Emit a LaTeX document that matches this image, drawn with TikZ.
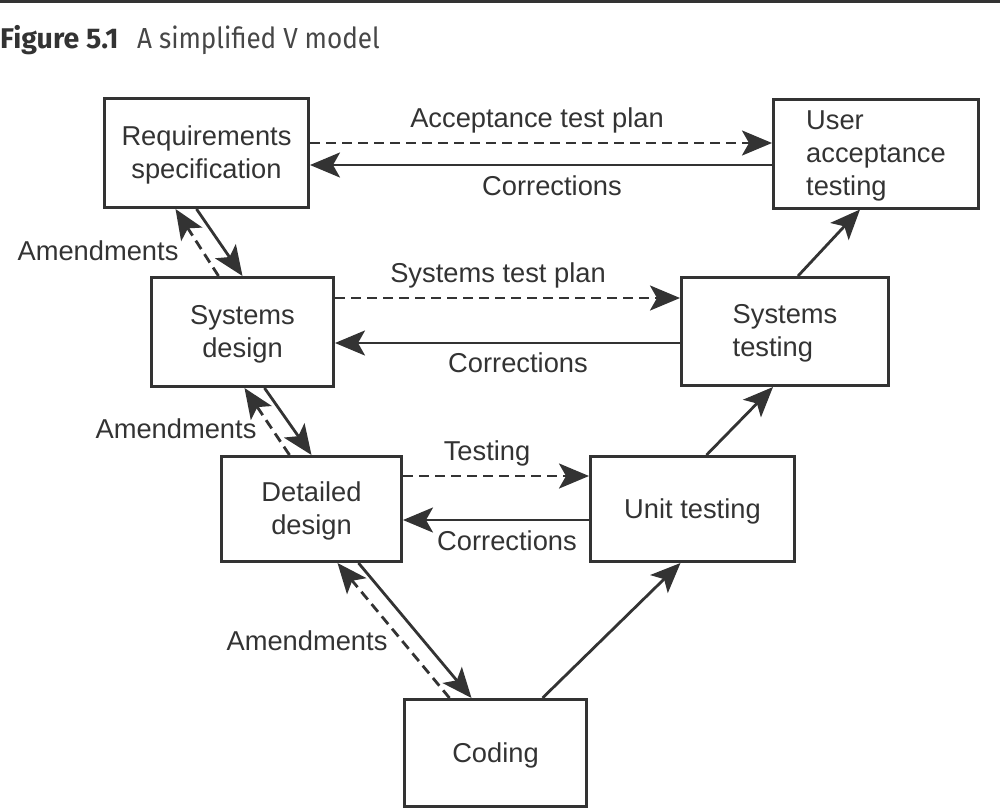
\documentclass[tikz,border=0pt]{standalone}
\usepackage{fontspec}
\setmainfont{Liberation Sans}
\newfontfamily\titlefont{Fira Sans}
\newfontfamily\titlefontn[FakeStretch=0.9]{Fira Sans}
\usetikzlibrary{arrows.meta,calc}
\definecolor{ink}{HTML}{333333}
\begin{document}
\begin{tikzpicture}[x=1pt,y=-1pt,
  box/.style={draw=ink,line width=3pt,rectangle,inner sep=0pt},
  txt/.style={text=ink,align=center,inner sep=0pt,font=\fontsize{27.3}{33}\selectfont},
  lbl/.style={text=ink,font=\fontsize{27.3}{33}\selectfont,inner sep=0pt},
  conn/.style={draw=ink,line width=2.8pt,-{Stealth[length=30pt,width=25pt,inset=7pt]}},
  dconn/.style={conn,dash pattern=on 10pt off 6pt}]
\useasboundingbox (0,0) rectangle (1000,811);
\fill[ink] (0,0) rectangle (1000,3);
\node[anchor=base west,inner sep=0pt,text=ink,font=\titlefont\bfseries\fontsize{28.5}{32}\selectfont] (fig) at (0,48) {Figure 5.1};
\node[anchor=base west,inner sep=0pt,text=ink!90,font=\titlefontn\fontsize{29}{32}\selectfont] (cap) at (137,48) {A simplified V model};

\node[box,minimum width=204pt,minimum height=109pt] (req) at (206.5,153) {};
\node[box,minimum width=205pt,minimum height=109pt] (uat) at (876,153.5) {};
\node[box,minimum width=182pt,minimum height=109pt] (sd) at (242.5,332) {};
\node[box,minimum width=207pt,minimum height=108pt] (st) at (785,331.5) {};
\node[box,minimum width=180pt,minimum height=105pt] (dd) at (311.5,509) {};
\node[box,minimum width=204pt,minimum height=105pt] (ut) at (692.5,509) {};
\node[box,minimum width=182pt,minimum height=107pt] (cod) at (495.5,753) {};

\node[txt] (reqt) at ($(req.center)+(0,2)$) {Requirements\\specification};
\node[txt,align=left] (uatt) at ($(uat.center)+(0,2)$) {User\\acceptance\\testing};
\node[txt] (sdt) at ($(sd.center)+(0,2)$) {Systems\\design};
\node[txt,align=left] (stt) at ($(st.center)+(0,2)$) {Systems\\testing};
\node[txt] (ddt) at ($(dd.center)+(0,2)$) {Detailed\\design};
\node[txt] (utt) at ($(ut.center)+(0,2)$) {Unit testing};
\node[txt] (codt) at ($(cod.center)+(0,2)$) {Coding};

% horizontal plans / corrections
\draw[dconn] ($(req.east)+(0,-10)$) -- ($(uat.west)+(0,-10.5)$);
\draw[conn] ($(uat.west)+(0,11.5)$) -- ($(req.east)+(0,12)$);
\node[lbl] (l1) at (537,120) {Acceptance test plan};
\node[lbl] (l2) at (552,186) {Corrections};

\draw[dconn] ($(sd.east)+(0,-34)$) -- ($(st.west)+(0,-33.5)$);
\draw[conn] ($(st.west)+(0,11.5)$) -- ($(sd.east)+(0,11)$);
\node[lbl] (l3) at (498,275) {Systems test plan};
\node[lbl] (l4) at (518,363) {Corrections};

\draw[dconn] ($(dd.east)+(0,-33)$) -- ($(ut.west)+(0,-33)$);
\draw[conn] ($(ut.west)+(0,11)$) -- ($(dd.east)+(0,11)$);
\node[lbl] (l5) at (487,453) {Testing};
\node[lbl] (l6) at (507,541) {Corrections};

% left leg
\draw[conn] ($(req.south)+(-10,0)$) -- ($(sd.north)+(0,0)$);
\draw[dconn] ($(sd.north)+(-24,0)$) -- ($(req.south)+(-31,0)$);
\node[lbl] (a1) at (98,251) {Amendments};

\draw[conn] ($(sd.south)+(22,0)$) -- ($(dd.north)+(0,0)$);
\draw[dconn] ($(dd.north)+(-22,0)$) -- ($(sd.south)+(2,0)$);
\node[lbl] (a2) at (176,429) {Amendments};

\draw[conn] ($(dd.south)+(47,0)$) -- ($(cod.north)+(-24,0)$);
\draw[dconn] ($(cod.north)+(-46,0)$) -- ($(dd.south)+(26,0)$);
\node[lbl] (a3) at (307,641) {Amendments};

% right leg
\draw[conn] ($(cod.north)+(47,0)$) -- ($(ut.south)+(-12,0)$);
\draw[conn] ($(ut.north)+(14,0)$) -- ($(st.south)+(-12,0)$);
\draw[conn] ($(st.north)+(13,0)$) -- ($(uat.south)+(-16,0)$);
\end{tikzpicture}
\end{document}
